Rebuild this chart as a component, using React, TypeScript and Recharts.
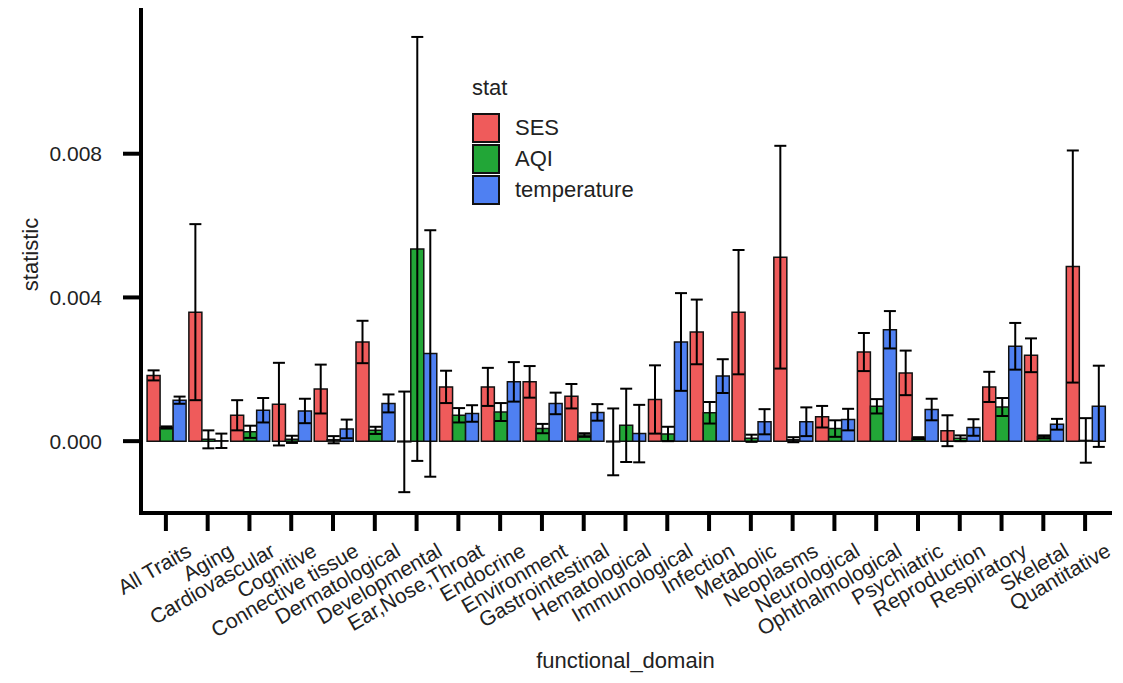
import React from 'react';
import { BarChart, Bar, XAxis, YAxis, ErrorBar, Legend, Label } from 'recharts';

const FONT = '"Liberation Sans", Arial, Helvetica, sans-serif';
const INK = '#222';

const domains = [
  'All Traits', 'Aging', 'Cardiovascular', 'Cognitive', 'Connective tissue', 'Dermatological',
  'Developmental', 'Ear,Nose,Throat', 'Endocrine', 'Environment', 'Gastrointestinal', 'Hematological',
  'Immunological', 'Infection', 'Metabolic', 'Neoplasms', 'Neurological', 'Ophthalmological',
  'Psychiatric', 'Reproduction', 'Respiratory', 'Skeletal', 'Quantitative',
];

// statistic and half-width of the error bar
const sesValues = [0.00183, 0.00359, 0.00072, 0.00103, 0.00145, 0.00276, -0.00002, 0.00151, 0.00151, 0.00165, 0.00125, -0.00002,
  0.00116, 0.00304, 0.00359, 0.00512, 0.00068, 0.00248, 0.0019, 0.00029, 0.00151, 0.00239, 0.00486];
const sesErrors = [0.00014, 0.00245, 0.00042, 0.00115, 0.00068, 0.00059, 0.0014, 0.00045, 0.00053, 0.00044, 0.00034, 0.00093,
  0.00095, 0.0009, 0.00173, 0.0031, 0.0003, 0.00053, 0.00062, 0.00043, 0.00042, 0.00047, 0.00323];

const aqiValues = [0.00038, 0.00005, 0.00026, 0.00005, 0.00004, 0.0003, 0.00535, 0.00072, 0.00081, 0.00035, 0.00017, 0.00044,
  0.0002, 0.00079, 0.00008, 0.00004, 0.00035, 0.00097, 0.00008, 0.00008, 0.00095, 0.00012, 0.00002];
const aqiErrors = [0.00003, 0.00025, 0.00017, 0.0001, 0.0001, 0.0001, 0.0059, 0.0002, 0.00025, 0.00013, 0.00005, 0.00102,
  0.0002, 0.0003, 0.0001, 0.00007, 0.00023, 0.0002, 0.00003, 0.00008, 0.00025, 0.00004, 0.00062];

const tempValues = [0.00114, 0.00001, 0.00086, 0.00084, 0.00034, 0.00105, 0.00244, 0.00077, 0.00165, 0.00105, 0.0008, 0.00021,
  0.00276, 0.00181, 0.00054, 0.00054, 0.0006, 0.0031, 0.00088, 0.00038, 0.00264, 0.00047, 0.00097];
const tempErrors = [0.0001, 0.0002, 0.00034, 0.00034, 0.00026, 0.00025, 0.00343, 0.00023, 0.00055, 0.0003, 0.00023, 0.0008,
  0.00136, 0.00047, 0.00035, 0.0004, 0.0003, 0.00052, 0.0003, 0.00023, 0.00065, 0.00015, 0.00113];

const yTicks = [0, 0.004, 0.008];

const series = [
  { key: 'SES', err: 'sesErr', color: '#EF5B5B' },
  { key: 'AQI', err: 'aqiErr', color: '#22A637' },
  { key: 'temperature', err: 'tempErr', color: '#4F80F2' },
];

const chartData = domains.map((domain, i) => ({
  domain,
  SES: sesValues[i],
  sesErr: sesErrors[i],
  AQI: aqiValues[i],
  aqiErr: aqiErrors[i],
  temperature: tempValues[i],
  tempErr: tempErrors[i],
}));

const XTick = ({ x, y, payload }: any) => {
  const ax = x + 27;
  const ay = y + 24;
  return (
    <text x={ax} y={ay} transform={`rotate(-30 ${ax} ${ay})`} textAnchor="end"
      fontSize={21} fontFamily={FONT} fill={INK}>
      {payload.value}
    </text>
  );
};

const StatLegend = () => (
  <div style={{ fontFamily: FONT, color: INK, fontSize: 22 }}>
    <div style={{ height: 24, lineHeight: '24px', marginBottom: 12 }}>stat</div>
    {series.map((s) => (
      <div key={s.key} style={{ display: 'flex', alignItems: 'center', height: 31 }}>
        <span style={{ width: 24, height: 26, background: s.color, border: '2px solid #111', marginRight: 15 }} />
        <span>{s.key}</span>
      </div>
    ))}
  </div>
);

export default function App() {
  return (
    <div style={{ position: 'absolute', left: 0, top: 0, background: '#fff' }}>
      <BarChart width={1123} height={683} data={chartData}
        margin={{ top: 10, right: 13, left: 0, bottom: 0 }}
        barCategoryGap="5%" barGap={0}>
        <XAxis dataKey="domain" interval={0} height={170} padding={{ left: 4, right: 4 }}
          tickSize={18} tickMargin={0}
          axisLine={{ stroke: '#000', strokeWidth: 4, strokeLinecap: 'square' }}
          tickLine={{ stroke: '#000', strokeWidth: 4 }}
          tick={<XTick />}>
          <Label content={({ viewBox }: any) => (
            <text x={viewBox.x + viewBox.width / 2} y={668} textAnchor="middle"
              fontSize={22} fontFamily={FONT} fill={INK}>functional_domain</text>
          )} />
        </XAxis>
        <YAxis width={141} domain={[-0.002, 0.012]} ticks={yTicks} allowDataOverflow
          tickFormatter={(v: number) => v.toFixed(3)}
          tickSize={18} tickMargin={21}
          axisLine={{ stroke: '#000', strokeWidth: 4, strokeLinecap: 'square' }}
          tickLine={{ stroke: '#000', strokeWidth: 4 }}
          tick={{ fontSize: 21, fontFamily: FONT, fill: INK }}>
          <Label content={({ viewBox }: any) => {
            const cx = 30;
            const cy = viewBox.y + viewBox.height / 2 - 7;
            return (
              <text x={cx} y={cy} transform={`rotate(-90 ${cx} ${cy})`} textAnchor="middle"
                dominantBaseline="central" fontSize={22} fontFamily={FONT} fill={INK}>statistic</text>
            );
          }} />
        </YAxis>
        <Legend layout="vertical" align="center" verticalAlign="middle"
          wrapperStyle={{ left: 472, top: 76, width: 'auto', height: 'auto' }}
          content={() => <StatLegend />} />
        {series.map((s) => (
          <Bar key={s.key} dataKey={s.key} fill={s.color} stroke="#111" strokeWidth={1.5}
            isAnimationActive={false}>
            <ErrorBar dataKey={s.err} width={6} stroke="#000" strokeWidth={2} direction="y" />
          </Bar>
        ))}
      </BarChart>
    </div>
  );
}
